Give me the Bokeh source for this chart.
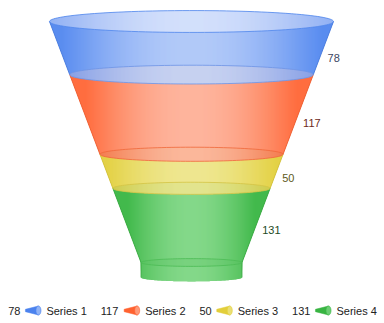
import numpy as np
from bokeh.plotting import figure
from bokeh.models import Range1d, ColumnDataSource
from bokeh.core.properties import value
from bokeh.embed import file_html
from bokeh.resources import INLINE

# ---- data ----
series = ["Series 1", "Series 2", "Series 3", "Series 4"]
values = [78, 117, 50, 131]
edge_colors = [(75, 130, 238), (255, 98, 48), (226, 206, 58), (56, 180, 66)]
center_colors = [(192, 212, 250), (253, 192, 172), (240, 234, 156), (142, 221, 147)]
label_colors = ["#3a4662", "#6e2a20", "#5e5820", "#1e4a26"]
cap_edge = [(112, 152, 240), (150, 166, 226), (240, 125, 80), (200, 202, 78)]
cap_center = [(196, 213, 250), (206, 212, 238), (249, 184, 154), (222, 228, 142)]
cap_line = ["#4f86ec", "#6d94e6", "#f0683a", "#d4c445"]

W, H = 384, 323
FONT = value("Liberation Sans")

p = figure(width=W, height=H, x_range=Range1d(0, W), y_range=Range1d(H, 0),
           output_backend="svg", toolbar_location=None, min_border=0)
p.axis.visible = False
p.grid.visible = False
p.outline_line_color = None
p.background_fill_color = "white"
p.border_fill_color = "white"

# ---- geometry ----
cx, y0, a0 = 191.0, 21.0, 142.0
y_end, neck_h, a_neck, k = 277.0, 15.0, 50.5, 0.077
y_neck = y_end - neck_h
slope = (a0 - a_neck) / (y_neck - y0)


def half(y):
    return a0 - slope * (min(y, y_neck) - y0)


def y_of_half(a):
    return y0 + (a0 - a) / slope


def mix(c1, c2, s):
    return "#%02x%02x%02x" % tuple(int(round(c1[i] + (c2[i] - c1[i]) * s)) for i in range(3))


def shade(t):
    t = min(abs(t), 1.0)
    return (1 - t ** 2) ** 1.2


scale = (y_end - y0) / sum(values)
cum = np.concatenate([[0], np.cumsum(values)])
bounds = [y0 + c * scale for c in cum]

xs_all, ys_all, fc_all = [], [], []


def add_strips(xl, xr, top_fn, bot_fn, cedge, ccenter, ref_a, extra=()):
    pts = [xl, xr] + [float(v) for v in range(int(np.ceil(xl)), int(np.floor(xr)) + 1)]
    pts += [e for e in extra if xl < e < xr]
    pts = sorted(set(pts))
    for x0_, x1_ in zip(pts[:-1], pts[1:]):
        xm = 0.5 * (x0_ + x1_)
        xs_all.append([x0_, x1_, x1_, x0_])
        ys_all.append([top_fn(x0_, xm), top_fn(x1_, xm), bot_fn(x1_, xm), bot_fn(x0_, xm)])
        fc_all.append(mix(cedge, ccenter, shade((xm - cx) / ref_a)))


underlays = []
side_lines_x, side_lines_y, side_col = [], [], []

for i in range(len(values)):
    yt, yb = bounds[i], bounds[i + 1]
    at, ab = half(yt), half(yb)

    def top_fn(x, xm, yt=yt, at=at):
        d = min(abs(x - cx) / at, 1.0)
        return yt + k * at * np.sqrt(max(0.0, 1 - d * d))

    def bot_fn(x, xm, yb=yb, ab=ab):
        dm = abs(xm - cx)
        if dm <= ab:
            d = min(abs(x - cx) / ab, 1.0)
            return yb + k * ab * np.sqrt(max(0.0, 1 - d * d))
        return y_of_half(max(abs(x - cx), ab))

    # underlay polygon
    ux = np.linspace(cx - at, cx + at, 200)
    top_u = [top_fn(x, x) for x in ux]
    bot_u = [bot_fn(x, x) for x in ux]
    underlays.append((list(ux) + list(ux[::-1]), top_u + bot_u[::-1],
                      mix(edge_colors[i], center_colors[i], 0.5)))
    ref = 0.5 * (at + ab)
    add_strips(cx - at, cx + at, top_fn, bot_fn, edge_colors[i], center_colors[i], ref,
               extra=(cx - ab, cx + ab))
    # side lines
    if i == len(values) - 1:
        ly = [yt, y_neck, yb]
        lx = [half(yt), a_neck, a_neck]
    else:
        ly = [yt, yb]
        lx = [at, ab]
    for sgn in (-1, 1):
        side_lines_x.append([cx + sgn * a for a in lx])
        side_lines_y.append(ly)
        side_col.append(mix(edge_colors[i], (0, 0, 0), 0.08))

# caps (ellipses at top and at boundaries)
cap_outline_x, cap_outline_y, cap_outline_c = [], [], []
for j in range(len(values)):
    yc = bounds[j]
    a = half(yc)

    def ctop(x, xm, yc=yc, a=a):
        d = min(abs(x - cx) / a, 1.0)
        return yc - k * a * np.sqrt(max(0.0, 1 - d * d))

    def cbot(x, xm, yc=yc, a=a):
        d = min(abs(x - cx) / a, 1.0)
        return yc + k * a * np.sqrt(max(0.0, 1 - d * d))

    add_strips(cx - a, cx + a, ctop, cbot, cap_edge[j], cap_center[j], a)
    th = np.linspace(0, 2 * np.pi, 120)
    cap_outline_x.append(list(cx + a * np.cos(th)))
    cap_outline_y.append(list(yc + k * a * np.sin(th)))
    cap_outline_c.append(cap_line[j])

# neck top ellipse outline
th = np.linspace(0, 2 * np.pi, 120)
neck_x = list(cx + a_neck * np.cos(th))
neck_y = list(y_neck + k * a_neck * np.sin(th))

p.patches(xs=[u[0] for u in underlays], ys=[u[1] for u in underlays],
          fill_color=[u[2] for u in underlays], line_color=None)
p.patches(xs=xs_all, ys=ys_all, fill_color=fc_all, line_color=None)
p.multi_line(xs=side_lines_x, ys=side_lines_y, line_color=side_col, line_width=1, line_alpha=0.8)
p.multi_line(xs=cap_outline_x, ys=cap_outline_y, line_color=cap_outline_c, line_width=1, line_alpha=0.8)
p.patch(neck_x, neck_y, fill_color=mix(edge_colors[3], (255, 255, 255), 0.15), fill_alpha=0.25,
        line_color=mix(edge_colors[3], (255, 255, 255), 0.1), line_alpha=0.8, line_width=1)

# value labels
lab_x, lab_y = [], []
for i in range(len(values)):
    yt, yb = bounds[i], min(bounds[i + 1], y_neck)
    yf_t = yt + k * half(yt)
    yf_b = yb + k * half(yb)
    ly = 0.5 * (yf_t + yf_b)
    lab_y.append(ly)
    lab_x.append(cx + half(ly) + 8)
p.text(x=lab_x, y=lab_y, text=[str(v) for v in values], text_color=label_colors,
       text_font=FONT, text_font_size="11px", text_align="left", text_baseline="middle")

# legend
fs = 11
def tw(s):
    w = {"S": 7.34, "e": 6.12, "r": 3.66, "i": 2.44, "s": 5.5, " ": 3.06}
    return sum(w.get(c, 6.12) for c in s)

icon_w, gap, item_gap = 16, 5, 14
widths = [tw(str(v)) + gap + icon_w + gap + tw(s) for v, s in zip(values, series)]
total = sum(widths) + item_gap * (len(values) - 1)
lx0 = (W - total) / 2
ly_leg = 310
vt_x, st_x, ic_xs, ic_ys, ic_c, cap_xs, cap_ys, cap_c = [], [], [], [], [], [], [], []
x = lx0
for v, s, ec, cc in zip(values, series, edge_colors, center_colors):
    vt_x.append(x)
    ix = x + tw(str(v)) + gap
    tipx, basex = ix, ix + icon_w - 3
    ic_xs.append([tipx, basex, basex, tipx])
    ic_ys.append([ly_leg - 1.2, ly_leg - 4.5, ly_leg + 4.5, ly_leg + 1.2])
    ic_c.append(mix(ec, (0, 0, 0), 0.0))
    th2 = np.linspace(0, 2 * np.pi, 40)
    cap_xs.append(list(basex + 2.5 * np.cos(th2)))
    cap_ys.append(list(ly_leg + 4.5 * np.sin(th2)))
    cap_c.append(mix(ec, cc, 0.6))
    st_x.append(ix + icon_w + gap)
    x += tw(str(v)) + gap + icon_w + gap + tw(s) + item_gap

p.patches(xs=ic_xs, ys=ic_ys, fill_color=ic_c, line_color=ic_c, line_width=0.5)
p.patches(xs=cap_xs, ys=cap_ys, fill_color=cap_c, line_color=ic_c, line_width=0.7)
p.text(x=vt_x, y=[ly_leg] * 4, text=[str(v) for v in values], text_color="#222222",
       text_font=FONT, text_font_size="11px", text_align="left", text_baseline="middle")
p.text(x=st_x, y=[ly_leg] * 4, text=series, text_color="#222222",
       text_font=FONT, text_font_size="11px", text_align="left", text_baseline="middle")

open("out.html", "w").write(file_html(p, INLINE))
